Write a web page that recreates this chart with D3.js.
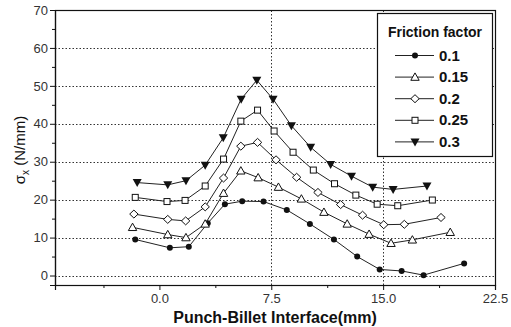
<!DOCTYPE html>
<html>
<head>
<meta charset="utf-8">
<script src="https://cdn.jsdelivr.net/npm/d3@7"></script>
<style>
  html, body { margin: 0; padding: 0; background: #fff; }
  svg { display: block; font-family: "Liberation Sans", Arial, sans-serif; }
</style>
</head>
<body>
<svg id="chart" width="511" height="327"></svg>
<script>
// Stress along the punch-billet interface for several friction factors
const frictionFactors = ["0.1", "0.15", "0.2", "0.25", "0.3"];

const x01 = [-1.62, 0.70, 1.97, 3.24, 4.39, 5.55, 6.98, 8.54, 10.09, 11.70, 13.26, 14.77, 16.24, 17.71, 20.43];
const y01 = [9.5, 7.3, 7.6, 13.8, 18.8, 19.6, 19.5, 17.3, 13.6, 9.5, 5.0, 1.6, 1.2, 0.1, 3.2];

const x015 = [-1.80, 0.56, 1.78, 3.07, 4.30, 5.46, 6.62, 7.98, 9.52, 11.03, 12.59, 14.06, 15.53, 16.96, 19.50];
const y015 = [12.7, 10.8, 10.0, 13.6, 21.7, 27.6, 25.8, 23.3, 20.2, 16.7, 13.6, 10.9, 8.5, 9.4, 11.4];

const x02 = [-1.71, 0.56, 1.76, 3.07, 4.30, 5.46, 6.58, 7.82, 9.20, 10.63, 12.15, 13.62, 15.04, 16.42, 18.88];
const y02 = [16.2, 14.8, 14.4, 18.1, 25.7, 34.1, 35.1, 30.5, 25.9, 21.9, 18.7, 15.9, 13.4, 13.5, 15.3];

const x025 = [-1.62, 0.51, 1.72, 3.07, 4.30, 5.46, 6.58, 7.69, 8.96, 10.32, 11.74, 13.17, 14.60, 15.98, 18.30];
const y025 = [20.6, 19.5, 19.8, 23.6, 30.7, 40.7, 43.6, 38.1, 32.5, 27.8, 24.2, 21.2, 18.8, 18.4, 19.9];

const x03 = [-1.49, 0.56, 1.78, 3.07, 4.28, 5.48, 6.53, 7.62, 8.85, 10.14, 11.48, 12.88, 14.30, 15.67, 17.94];
const y03 = [24.5, 23.9, 25.0, 29.1, 36.3, 46.5, 51.5, 46.5, 39.5, 33.8, 29.3, 26.2, 23.3, 22.7, 23.6];

const xTicks = [0, 7.5, 15, 22.5];
const xTickLabels = ["0.0", "7.5", "15.0", "22.5"];
const yTicks = [0, 10, 20, 30, 40, 50, 60, 70];

const seriesX = [x01, x015, x02, x025, x03];
const seriesY = [y01, y015, y02, y025, y03];
const markerKinds = ["circleFilled", "triangleUp", "diamond", "square", "triangleDownFilled"];

const margin = { left: 55, right: 16, top: 10, bottom: 42 };
const W = 511, H = 327;

const svg = d3.select("#chart");
const x = d3.scaleLinear().domain([-7, 22.5]).range([margin.left, W - margin.right]);
const y = d3.scaleLinear().domain([-2.5, 70]).range([H - margin.bottom, margin.top]);

// dotted grid
const grid = svg.append("g").attr("stroke", "#333").attr("stroke-width", 1)
  .attr("stroke-dasharray", "1.5,2");
grid.selectAll("line.h").data(yTicks.filter(d => d < 70)).join("line")
  .attr("x1", x.range()[0]).attr("x2", x.range()[1])
  .attr("y1", d => Math.round(y(d)) + 0.5).attr("y2", d => Math.round(y(d)) + 0.5);
grid.selectAll("line.v").data([7.5, 15]).join("line")
  .attr("y1", y.range()[0]).attr("y2", y.range()[1])
  .attr("x1", d => Math.round(x(d)) + 0.5).attr("x2", d => Math.round(x(d)) + 0.5);

// frame
svg.append("rect")
  .attr("x", x.range()[0] + 0.5).attr("y", y.range()[1] + 0.5)
  .attr("width", x.range()[1] - x.range()[0]).attr("height", y.range()[0] - y.range()[1])
  .attr("fill", "none").attr("stroke", "#111").attr("stroke-width", 1.2);

// axes
const xMinor = d3.range(-3.75, 22.6, 3.75).filter(d => xTicks.indexOf(d) < 0);
const xAxis = d3.axisBottom(x).tickValues(xTicks).tickSize(5).tickPadding(4)
  .tickFormat((d, i) => xTickLabels[i]);
const gx = svg.append("g").attr("transform", `translate(0,${y.range()[0]})`).call(xAxis);
gx.append("g").selectAll("line").data(xMinor).join("line")
  .attr("x1", d => x(d) + 0.5).attr("x2", d => x(d) + 0.5).attr("y1", 0).attr("y2", 3)
  .attr("stroke", "#111");

const yAxis = d3.axisLeft(y).tickValues(yTicks).tickSize(5).tickPadding(2);
const gy = svg.append("g").attr("transform", `translate(${x.range()[0]},0)`).call(yAxis);
gy.append("g").selectAll("line").data(d3.range(5, 70, 10)).join("line")
  .attr("y1", d => y(d) + 0.5).attr("y2", d => y(d) + 0.5).attr("x1", 0).attr("x2", -3)
  .attr("stroke", "#111");

[gx, gy].forEach(g => {
  g.select(".domain").attr("stroke", "#111").attr("stroke-width", 1.2);
  g.selectAll(".tick line").attr("stroke", "#111");
  g.selectAll(".tick text").attr("font-size", 13).attr("fill", "#333")
    .attr("font-family", "'Liberation Sans', Arial, sans-serif");
});

// axis titles
svg.append("text").attr("x", 275).attr("y", 323).attr("text-anchor", "middle")
  .attr("font-size", 16).attr("font-weight", "bold").attr("fill", "#111")
  .text("Punch-Billet Interface(mm)");

const yTitle = svg.append("text").attr("transform", "translate(25,150) rotate(-90)")
  .attr("text-anchor", "middle").attr("font-size", 15).attr("fill", "#111");
yTitle.append("tspan").text("σ");
yTitle.append("tspan").attr("font-size", 10).attr("dy", 4).text("x");
yTitle.append("tspan").attr("dy", -4).text("  (N/mm)");

// marker drawing
function drawMarker(g, kind) {
  switch (kind) {
    case "circleFilled":
      g.append("circle").attr("r", 3).attr("fill", "#111");
      break;
    case "triangleUp":
      g.append("path").attr("d", "M0,-4.2L4.2,3.2L-4.2,3.2Z")
        .attr("fill", "#fff").attr("stroke", "#111").attr("stroke-width", 1);
      break;
    case "diamond":
      g.append("path").attr("d", "M0,-4L4.2,0L0,4L-4.2,0Z")
        .attr("fill", "#fff").attr("stroke", "#111").attr("stroke-width", 1);
      break;
    case "square":
      g.append("rect").attr("x", -3).attr("y", -3).attr("width", 6).attr("height", 6)
        .attr("fill", "#fff").attr("stroke", "#111").attr("stroke-width", 1);
      break;
    case "triangleDownFilled":
      g.append("path").attr("d", "M-4.5,-3.5L4.5,-3.5L0,4.5Z").attr("fill", "#111");
      break;
  }
}

const line = d3.line().x(d => x(d[0])).y(d => y(d[1]));

frictionFactors.forEach((f, i) => {
  const pts = seriesX[i].map((xv, j) => [xv, seriesY[i][j]]);
  const g = svg.append("g");
  g.append("path").datum(pts).attr("d", line)
    .attr("fill", "none").attr("stroke", "#222").attr("stroke-width", 1);
  g.selectAll("g.m").data(pts).join("g")
    .attr("transform", d => `translate(${x(d[0])},${y(d[1])})`)
    .each(function () { drawMarker(d3.select(this), markerKinds[i]); });
});

// legend
const lg = svg.append("g");
lg.append("rect").attr("x", 377.5).attr("y", 13.5).attr("width", 115).attr("height", 143)
  .attr("fill", "#fff").attr("stroke", "#111").attr("stroke-width", 1.2);
lg.append("text").attr("x", 435).attr("y", 37).attr("text-anchor", "middle")
  .attr("font-size", 14).attr("font-weight", "bold").attr("fill", "#111")
  .text("Friction factor");
frictionFactors.forEach((f, i) => {
  const yy = 55 + i * 21.6;
  lg.append("line").attr("x1", 395).attr("x2", 434).attr("y1", yy + 0.5).attr("y2", yy + 0.5)
    .attr("stroke", "#222").attr("stroke-width", 1);
  drawMarker(lg.append("g").attr("transform", `translate(415,${yy + 0.5})`), markerKinds[i]);
  lg.append("text").attr("x", 439).attr("y", yy + 5.5)
    .attr("font-size", 15).attr("font-weight", "bold").attr("fill", "#111").text(f);
});
</script>
</body>
</html>
